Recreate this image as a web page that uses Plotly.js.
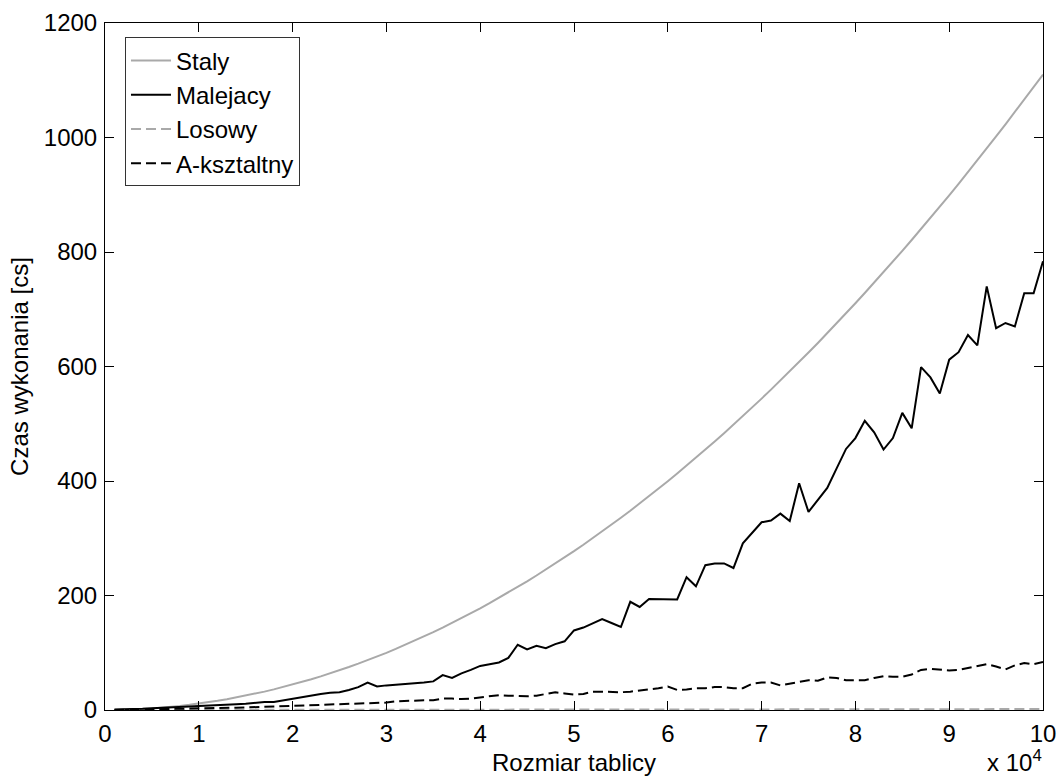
<!DOCTYPE html>
<html>
<head>
<meta charset="utf-8">
<script src="https://cdn.plot.ly/plotly-3.0.1.min.js"></script>
<style>html,body{margin:0;padding:0;background:#fff;}#chart{width:1059px;height:777px;}</style>
</head>
<body>
<div id="chart"></div>
<script>
// Array sizes (Rozmiar tablicy), 1000 .. 100000 step 1000
const rozmiar = [];
for (let k = 1; k <= 100; k++) rozmiar.push(k * 1000);

const seriesNames = ["Staly", "Malejacy", "Losowy", "A-ksztaltny"];

const staly = [
  0.1, 0.4, 1.0, 1.8, 2.8, 4.0, 5.4, 7.1, 9.0, 11.1,
  13.4, 16.0, 18.8, 21.8, 25.0, 28.4, 32.1, 36.0, 40.1, 44.4,
  49.0, 53.7, 58.7, 63.9, 69.4, 75.0, 80.9, 87.0, 93.4, 99.9,
  106.7, 113.7, 120.9, 128.3, 136.0, 143.9, 152.0, 160.3, 168.8, 177.6,
  186.6, 195.8, 205.2, 214.9, 224.8, 234.9, 245.2, 255.7, 266.5, 277.5,
  288.7, 300.1, 311.8, 323.7, 335.8, 348.1, 360.6, 373.4, 386.4, 399.6,
  413.0, 426.7, 440.6, 454.7, 469.0, 483.5, 498.3, 513.3, 528.5, 543.9,
  559.6, 575.4, 591.5, 607.8, 624.4, 641.1, 658.1, 675.3, 692.8, 710.4,
  728.3, 746.4, 764.7, 783.2, 802.0, 821.0, 840.2, 859.6, 879.2, 899.1,
  919.2, 939.5, 960.0, 980.8, 1001.8, 1023.0, 1044.4, 1066.0, 1087.9, 1110.0
];

const malejacy = [
  1, 1, 1.5, 2, 3, 3.5, 4.5, 5, 6, 7,
  7.5, 8, 9, 10, 11, 13, 14, 14, 17, 20,
  23, 26, 28, 30, 31, 35, 40, 48, 41, 43,
  44, 45, 46, 48, 50, 61, 56, 64, 70, 77,
  80, 83, 91, 114, 106, 112, 108, 115, 120, 139,
  144, 152, 159, 152, 145, 189, 180, 194, 194, 194,
  193, 232, 216, 253, 256, 256, 248, 291, 309, 328,
  331, 343, 330, 396, 346, 366, 388, 422, 456, 475,
  505, 485, 455, 475, 519, 492, 599, 581, 553, 612,
  625, 655, 637, 740, 667, 676, 670, 728, 728, 784
];

const losowy = [
  0, 0, 0, 0, 0, 0, 0, 0, 0, 0.1,
  0.1, 0.1, 0.1, 0.1, 0.1, 0.1, 0.2, 0.2, 0.2, 0.2,
  0.2, 0.2, 0.2, 0.3, 0.3, 0.3, 0.3, 0.3, 0.3, 0.3,
  0.4, 0.4, 0.4, 0.4, 0.4, 0.4, 0.5, 0.5, 0.5, 0.5,
  0.5, 0.5, 0.6, 0.6, 0.6, 0.6, 0.6, 0.6, 0.7, 0.7,
  0.7, 0.7, 0.7, 0.8, 0.8, 0.8, 0.8, 0.8, 0.8, 0.9,
  0.9, 0.9, 0.9, 0.9, 1.0, 1.0, 1.0, 1.0, 1.0, 1.0,
  1.1, 1.1, 1.1, 1.1, 1.1, 1.2, 1.2, 1.2, 1.2, 1.2,
  1.3, 1.3, 1.3, 1.3, 1.3, 1.4, 1.4, 1.4, 1.4, 1.4,
  1.5, 1.5, 1.5, 1.5, 1.5, 1.6, 1.6, 1.6, 1.6, 1.6
];

const aksztaltny = [
  0.2, 0.4, 0.6, 0.8, 1.0, 1.3, 1.6, 2.0, 2.3, 2.7,
  3.0, 3.3, 3.7, 4.0, 4.5, 5, 5.5, 6, 6.5, 7,
  7.5, 8, 8.5, 9, 9.5, 10, 11, 12, 12, 13,
  15, 16, 16, 17, 17, 20, 20, 19, 20, 22,
  24, 26, 25, 24, 24, 25, 28, 31, 29, 27,
  28, 32, 32, 31, 31, 32, 34, 35, 38, 41,
  35, 36, 38, 38, 40, 40, 38, 38, 46, 48,
  48, 43, 46, 49, 52, 51, 57, 56, 52, 52,
  52, 56, 59, 58, 58, 62, 70, 72, 70, 69,
  70, 73, 77, 80, 76, 71, 78, 82, 80, 84
];

const xTickVals = [0, 10000, 20000, 30000, 40000, 50000, 60000, 70000, 80000, 90000, 100000];
const xTickText = ["0", "1", "2", "3", "4", "5", "6", "7", "8", "9", "10"];
const yTickVals = [0, 200, 400, 600, 800, 1000, 1200];

const FONT = "Liberation Sans, Arial, Helvetica, sans-serif";

const traces = [
  {x: rozmiar, y: staly, name: seriesNames[0], mode: "lines",
   line: {color: "#a9a9a9", width: 2}},
  {x: rozmiar, y: malejacy, name: seriesNames[1], mode: "lines",
   line: {color: "#000000", width: 2}},
  {x: rozmiar, y: losowy, name: seriesNames[2], mode: "lines",
   line: {color: "#a9a9a9", width: 2, dash: "10px,5px"}},
  {x: rozmiar, y: aksztaltny, name: seriesNames[3], mode: "lines",
   line: {color: "#000000", width: 2, dash: "10px,5px"}}
];

const axisCommon = {
  showgrid: false, zeroline: false,
  showline: true, linecolor: "#000", linewidth: 1, mirror: "ticks",
  ticks: "inside", ticklen: 9, tickcolor: "#000", tickwidth: 1,
  tickfont: {family: FONT, size: 24, color: "#000"}
};

const layout = {
  width: 1059, height: 777,
  margin: {l: 105, r: 16, t: 23, b: 67, pad: 0},
  paper_bgcolor: "#fff", plot_bgcolor: "#fff",
  font: {family: FONT, size: 24, color: "#000"},
  showlegend: true,
  legend: {
    x: 0.0213, y: 0.979, xanchor: "left", yanchor: "top",
    bgcolor: "#fff", bordercolor: "#333", borderwidth: 1,
    font: {family: FONT, size: 24, color: "#000"},
    tracegroupgap: 0, itemwidth: 40
  },
  xaxis: Object.assign({}, axisCommon, {
    range: [0, 100000], tickmode: "array", tickvals: xTickVals, ticktext: xTickText,
    ticklabelstandoff: 2
  }),
  yaxis: Object.assign({}, axisCommon, {
    range: [0, 1200], tickmode: "array", tickvals: yTickVals,
    ticklabelstandoff: 2,
    title: {text: "Czas wykonania [cs]", font: {family: FONT, size: 24}, standoff: 8}
  }),
  annotations: [
    {
      xref: "paper", yref: "paper", x: 0.5, y: -0.0975, xanchor: "center", yanchor: "bottom",
      text: "Rozmiar tablicy", showarrow: false, borderpad: 0,
      font: {family: FONT, size: 24, color: "#000"}
    },
    {
      xref: "paper", yref: "paper", x: 1, y: -0.0975, xanchor: "right", yanchor: "bottom",
      text: "x 10<sup>4</sup>", showarrow: false, borderpad: 0,
      font: {family: FONT, size: 24, color: "#000"}
    }
  ]
};

Plotly.newPlot("chart", traces, layout, {displayModeBar: false, staticPlot: true});
</script>
</body>
</html>
